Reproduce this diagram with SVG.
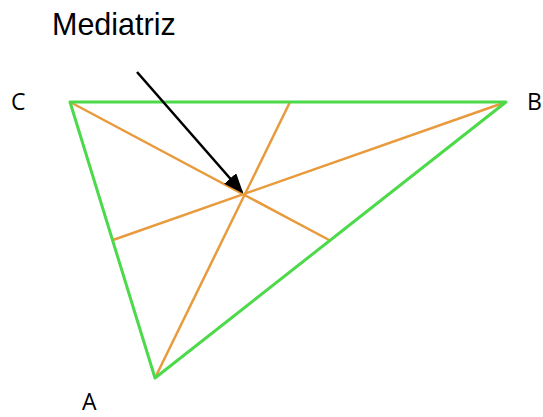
<svg xmlns="http://www.w3.org/2000/svg" width="543" height="417" viewBox="0 0 543 417">
<defs>
<style>
.tri{stroke:#4cd94a;stroke-width:3;fill:none;stroke-linecap:round;stroke-linejoin:round}
.med{stroke:#e89a3c;stroke-width:2.5;fill:none}
.lbl{font-family:"Open Sans","Liberation Sans",sans-serif;font-size:23px;fill:#000}
.title{font-family:"Liberation Sans",Arial,sans-serif;font-size:30.5px;fill:#000}
</style>
<marker id="ah" markerWidth="20" markerHeight="16" refX="18" refY="8" orient="auto" markerUnits="userSpaceOnUse" viewBox="0 0 20 16">
<path d="M0,0 L20,8 L0,16 z" fill="#000"/>
</marker>
</defs>
<rect width="543" height="417" fill="#fff"/>
<g id="connectors">
<line class="med" x1="70" y1="102" x2="331" y2="241"/>
<line class="med" x1="506" y1="102" x2="113" y2="240"/>
<line class="med" x1="155" y1="378" x2="290" y2="102"/>
<polygon class="tri" points="70,102 506,102 155,378"/>
<line x1="137" y1="72" x2="242" y2="192" stroke="#000" stroke-width="2.5" marker-end="url(#ah)"/>
</g>
<g id="label-mediatriz"><text class="title" x="52" y="35">Mediatriz</text></g>
<g id="node-C"><text class="lbl" x="11" y="110">C</text></g>
<g id="node-B"><text class="lbl" x="527" y="110">B</text></g>
<g id="node-A"><text class="lbl" x="82" y="410">A</text></g>
</svg>
